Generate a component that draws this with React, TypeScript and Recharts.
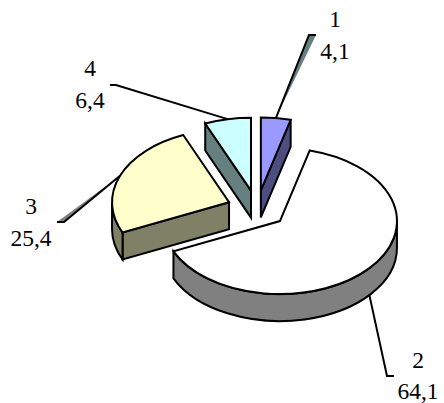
import React from "react";
import { PieChart, Pie } from "recharts";

const categories = ["1", "2", "3", "4"];
const values = [4.1, 64.1, 25.4, 6.4];
const valueLabels = ["4,1", "64,1", "25,4", "6,4"];
const faceColors = ["#9999FF", "#FFFFFF", "#FFFFCC", "#CCFFFF"];
const wallColors = ["#4D4D80", "#808080", "#808066", "#668080"];

const tableData = categories.map((name, i) => ({
  name,
  value: values[i],
  valueLabel: valueLabels[i],
  fill: faceColors[i],
  wall: wallColors[i],
  index: i,
}));

const TILT = 0.624;
const DEPTH = 27;
const EXPLODE = 30;
const STROKE = 2;
const RAD = Math.PI / 180;

const project = (cx: number, cy: number, r: number, deg: number) => ({
  x: cx + r * Math.cos(deg * RAD),
  y: cy - r * TILT * Math.sin(deg * RAD),
});

const apexOf = (cx: number, cy: number, mid: number) => project(cx, cy, EXPLODE, mid);

const arcPath = (c: { x: number; y: number }, r: number, from: number, to: number) => {
  const e = project(c.x, c.y, r, to);
  const large = Math.abs(from - to) > 180 ? 1 : 0;
  return `A${r} ${r * TILT} 0 ${large} 1 ${e.x} ${e.y}`;
};

function Slice3D(props: any) {
  const { cx, cy, outerRadius: r, startAngle: s, endAngle: e, midAngle, fill, payload } = props;
  const mid = midAngle ?? (s + e) / 2;
  const a = apexOf(cx, cy, mid);
  const wall = payload?.wall ?? props.wall;
  const P = project(a.x, a.y, r, s);
  const Q = project(a.x, a.y, r, e);
  const walls: React.ReactNode[] = [];
  const common = { fill: wall, stroke: "#000", strokeWidth: STROKE, strokeLinejoin: "miter" as const };
  const radial = (pt: { x: number; y: number }, key: string) => (
    <path
      key={key}
      {...common}
      d={`M${a.x} ${a.y}L${pt.x} ${pt.y}L${pt.x} ${pt.y + DEPTH}L${a.x} ${a.y + DEPTH}Z`}
    />
  );
  if (Math.cos(s * RAD) < 0) walls.push(radial(P, "s"));
  if (Math.cos(e * RAD) > 0) walls.push(radial(Q, "e"));
  // outer rim wall: part of the clockwise arc lying in the front half
  const ranges: [number, number][] = [];
  for (const [lo, hi] of [
    [-180, 0],
    [-540, -360],
  ]) {
    const from = Math.min(s, hi);
    const to = Math.max(e, lo);
    if (from > to) ranges.push([from, to]);
  }
  ranges.forEach(([from, to], i) => {
    const p1 = project(a.x, a.y, r, from);
    const p2 = project(a.x, a.y, r, to);
    walls.push(
      <path
        key={`r${i}`}
        {...common}
        d={`M${p1.x} ${p1.y}${arcPath(a, r, from, to)}L${p2.x} ${p2.y + DEPTH}A${r} ${r * TILT} 0 ${
          Math.abs(from - to) > 180 ? 1 : 0
        } 0 ${p1.x} ${p1.y + DEPTH}Z`}
      />
    );
  });
  return (
    <g>
      {walls}
      <path
        d={`M${a.x} ${a.y}L${P.x} ${P.y}${arcPath(a, r, s, e)}Z`}
        fill={fill}
        stroke="#000"
        strokeWidth={STROKE}
        strokeLinejoin="miter"
      />
    </g>
  );
}

// Leader elbow and label placement per slice, relative to the chart area
const leaderLayout = [
  { elbow: [309, 35], end: [316, 35], wedge: "#668080", front: false, tx: 335, ty: [27, 59] },
  { elbow: [387, 376], end: [394, 376], wedge: "none", front: true, tx: 418, ty: [368, 399] },
  { elbow: [64, 222], end: [57, 222], wedge: "#808080", front: false, tx: 31, ty: [214, 246] },
  { elbow: [116, 85], end: [110, 85], wedge: "none", front: false, tx: 90, ty: [76, 108] },
];

function renderLabel(props: any) {
  const { cx, cy, midAngle, outerRadius, index } = props;
  const l = leaderLayout[index];
  const a = apexOf(cx, cy, midAngle);
  const p = project(a.x, a.y, outerRadius, midAngle);
  const sy = l.front ? p.y + DEPTH : p.y;
  const t = { fontFamily: "'Liberation Serif'", fontSize: 23.5, fill: "#000", textAnchor: "middle" as const };
  return (
    <g key={index}>
      <path
        d={`M${p.x} ${sy}L${l.elbow[0]} ${l.elbow[1]}L${l.end[0]} ${l.end[1]}`}
        fill={l.wedge}
        stroke="none"
      />
      <path
        d={`M${p.x} ${sy}L${l.elbow[0]} ${l.elbow[1]}L${l.end[0]} ${l.end[1]}`}
        fill="none"
        stroke="#000"
        strokeWidth={STROKE}
      />
      <text x={l.tx} y={l.ty[0]} {...t}>
        {categories[index]}
      </text>
      <text x={l.tx} y={l.ty[1]} {...t}>
        {valueLabels[index]}
      </text>
    </g>
  );
}

export default function App() {
  return (
    <div style={{ position: "absolute", left: 0, top: 0, width: 444, height: 403, background: "#fff" }}>
      <PieChart width={444} height={403} margin={{ top: 0, right: 0, bottom: 0, left: 0 }}>
        <Pie
          data={tableData}
          dataKey="value"
          nameKey="name"
          cx={257}
          cy={209}
          innerRadius={0}
          outerRadius={117}
          startAngle={90}
          endAngle={-270}
          isAnimationActive={false}
          shape={Slice3D}
          label={renderLabel}
          labelLine={false}
        />
      </PieChart>
    </div>
  );
}
